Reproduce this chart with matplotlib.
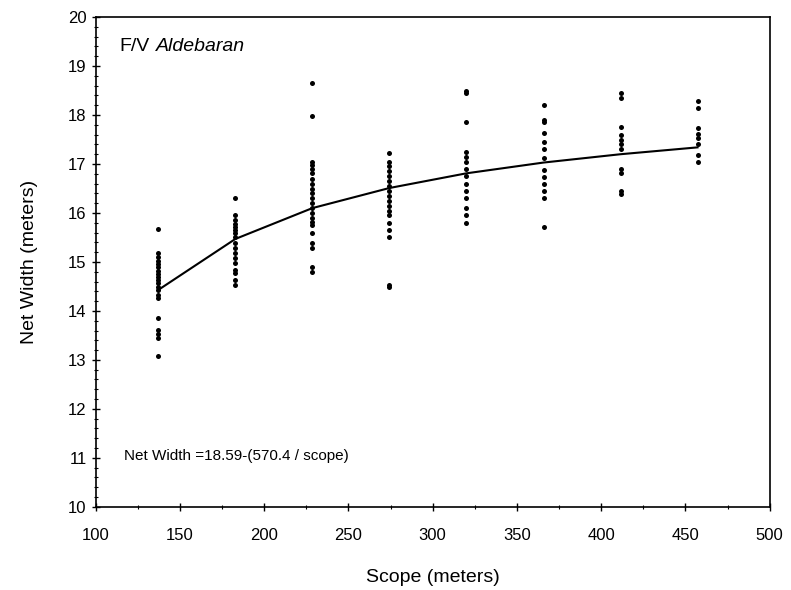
import matplotlib
matplotlib.use('Agg')
import matplotlib.pyplot as plt
from matplotlib.ticker import MultipleLocator

plt.rcParams['font.family'] = ['Liberation Sans', 'DejaVu Sans']

# scope settings (meters)
scopes = [137.2, 182.9, 228.6, 274.3, 320.0, 365.8, 411.5, 457.2]

# observed net widths at each scope (meters)
widths = [
    [15.68, 15.18, 15.10, 15.02, 14.96, 14.90, 14.82, 14.76, 14.70, 14.63, 14.57,
     14.49, 14.43, 14.33, 14.27, 13.86, 13.61, 13.53, 13.45, 13.08],
    [16.31, 15.96, 15.86, 15.78, 15.72, 15.65, 15.59, 15.51, 15.39, 15.29, 15.18,
     15.08, 14.98, 14.84, 14.78, 14.63, 14.53],
    [18.65, 17.98, 17.05, 16.98, 16.90, 16.82, 16.70, 16.60, 16.50, 16.40, 16.30,
     16.20, 16.10, 16.00, 15.90, 15.82, 15.75, 15.60, 15.38, 15.28, 14.90, 14.80],
    [17.22, 17.05, 16.95, 16.85, 16.75, 16.65, 16.55, 16.45, 16.35, 16.25, 16.15,
     16.05, 15.95, 15.80, 15.65, 15.50, 14.52, 14.48],
    [18.50, 18.45, 17.86, 17.25, 17.15, 17.05, 16.90, 16.75, 16.60, 16.45, 16.30,
     16.10, 15.95, 15.80],
    [18.20, 17.90, 17.85, 17.63, 17.45, 17.30, 17.12, 16.88, 16.73, 16.60, 16.45,
     16.30, 15.72],
    [18.45, 18.35, 17.75, 17.60, 17.50, 17.40, 17.30, 16.90, 16.82, 16.45, 16.38],
    [18.28, 18.15, 17.73, 17.62, 17.53, 17.40, 17.18, 17.05],
]

# fitted curve values read at each scope
fit_width = [14.43, 15.47, 16.10, 16.51, 16.81, 17.03, 17.20, 17.34]

fig = plt.figure(figsize=(7.91, 5.90), dpi=100)
ax = fig.add_axes([0.121, 0.141, 0.852, 0.830])

for s, w in zip(scopes, widths):
    ax.plot([s] * len(w), w, 'o', color='black', markersize=3.6, markeredgewidth=0)

ax.plot(scopes, fit_width, color='black', linewidth=1.5)

ax.set_xlim(100, 500)
ax.set_ylim(10, 20)
ax.xaxis.set_major_locator(MultipleLocator(50))
ax.xaxis.set_minor_locator(MultipleLocator(25))
ax.yaxis.set_major_locator(MultipleLocator(1))
ax.yaxis.set_minor_locator(MultipleLocator(0.2))
ax.tick_params(which='major', direction='inout', length=6, width=1, labelsize=12, colors='black')
ax.tick_params(which='minor', direction='inout', length=3, width=0.8)
ax.tick_params(axis='x', pad=12)

for sp in ax.spines.values():
    sp.set_linewidth(1.2)

ax.set_xlabel('Scope (meters)', fontsize=14, labelpad=19)
ax.set_ylabel('Net Width (meters)', fontsize=14, labelpad=22)

ax.text(114, 19.4, 'F/V', fontsize=14, va='center')
ax.text(135.5, 19.4, 'Aldebaran', fontsize=14, style='italic', va='center')
ax.text(116.5, 11.04, 'Net Width =18.59-(570.4 / scope)', fontsize=11, va='center')

fig.savefig('out.png', dpi=100)
